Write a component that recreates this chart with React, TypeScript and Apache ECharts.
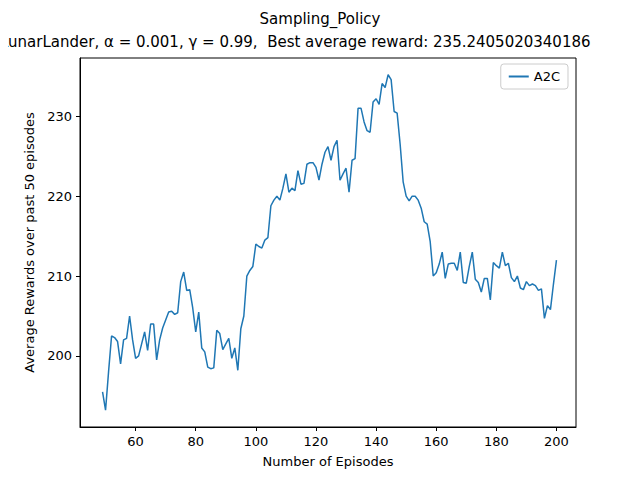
import React, { useEffect, useRef } from "react";
import * as echarts from "echarts";

const startEpisode = 49;
const rewards: number[] = [
  195.5, 193.2, 198, 202.5, 202.3, 201.8, 199, 202, 202.2, 205, 202, 199.7, 200, 201.5, 203, 200.7, 204, 204,
  199.5, 202, 203.5, 204.5, 205.5, 205.6, 205.2, 205.4, 209.3, 210.5, 208.2, 208.3, 206, 203, 205.5, 201,
  200.5, 198.6, 198.4, 198.5, 203.2, 202.8, 200.8, 201.5, 202.2, 199.7, 201, 198.2, 203.4, 205, 210, 210.7,
  211.2, 214, 213.7, 213.5, 214.5, 214.8, 218.8, 219.5, 220, 219.5, 221, 222.8, 220.5, 221, 220.7, 223.2,
  221.5, 221.6, 224, 224.2, 224.2, 223.6, 222, 224, 225.5, 226.2, 224.5, 226.2, 227, 222, 222.8, 223.5, 220.5,
  224.5, 224.7, 231, 231, 229.3, 228.2, 228, 231.8, 232.2, 231.5, 234.1, 233.6, 235.2, 234.6, 230.6, 230.4,
  226.5, 221.8, 220, 219.4, 220, 220, 219.5, 218.5, 216.8, 216.5, 214.3, 210, 210.4, 211.5, 213, 209.7, 211.5,
  211.6, 211.6, 210.7, 213, 209.2, 209.1, 211.2, 213, 209.6, 209.2, 208, 209.7, 209.7, 207, 211.7, 211.3, 211,
  213, 211.3, 211.6, 209.8, 209.3, 210, 208.5, 208.3, 209.3, 208.8, 209, 208.8, 208.2, 208.4, 204.7, 206.3,
  205.8, 209, 212,
];
const xTicks = [60, 80, 100, 120, 140, 160, 180, 200];
const yTicks = [200, 210, 220, 230];

const App: React.FC = () => {
  const ref = useRef<HTMLDivElement>(null);

  useEffect(() => {
    if (!ref.current) return;
    const chart = echarts.init(ref.current, undefined, { renderer: "svg" });
    const font = "DejaVu Sans";
    chart.setOption({
      animation: false,
      textStyle: { fontFamily: font },
      title: [
        { text: "Sampling_Policy", left: "center", top: 6, textStyle: { fontSize: 15, fontWeight: "normal", color: "#000", fontFamily: font } },
        {
          text: "LunarLander, α = 0.001, γ = 0.99,  Best average reward: 235.2405020340186",
          left: -5, top: 29,
          textStyle: { fontSize: 15, fontWeight: "normal", color: "#000", fontFamily: font },
        },
      ],
      legend: {
        top: 64, right: 72, orient: "vertical",
        itemWidth: 20, itemHeight: 2,
        borderColor: "#ccc", borderWidth: 1, borderRadius: 3, padding: [6, 8],
        textStyle: { fontSize: 13, color: "#000" },
        icon: "rect",
      },
      grid: { left: 80, right: 64, top: 58, bottom: 53, show: true, borderColor: "#000", borderWidth: 1 },
      xAxis: {
        type: "value", min: 41.5, max: 206.5,
        name: "Number of Episodes", nameLocation: "middle", nameGap: 28,
        nameTextStyle: { fontSize: 13, color: "#000" },
        axisLine: { lineStyle: { color: "#000" } },
        axisTick: { customValues: xTicks, length: 4, lineStyle: { color: "#000" } },
        axisLabel: { customValues: xTicks, color: "#000", fontSize: 13 },
        splitLine: { show: false },
      },
      yAxis: {
        type: "value", min: 191.1, max: 237.3,
        name: "Average Rewards over past 50 episodes", nameLocation: "middle", nameGap: 44,
        nameTextStyle: { fontSize: 13, color: "#000" },
        axisLine: { show: true, lineStyle: { color: "#000" } },
        axisTick: { show: true, customValues: yTicks, length: 4, lineStyle: { color: "#000" } },
        axisLabel: { customValues: yTicks, color: "#000", fontSize: 13 },
        splitLine: { show: false },
      },
      series: [
        {
          name: "A2C", type: "line", showSymbol: false,
          data: rewards.map((v, i) => [startEpisode + i, v]),
          lineStyle: { color: "#1f77b4", width: 1.5 },
          itemStyle: { color: "#1f77b4" },
        },
      ],
    });
    return () => chart.dispose();
  }, []);

  return <div ref={ref} style={{ width: 640, height: 480, margin: -8 }} />;
};

export default App;
